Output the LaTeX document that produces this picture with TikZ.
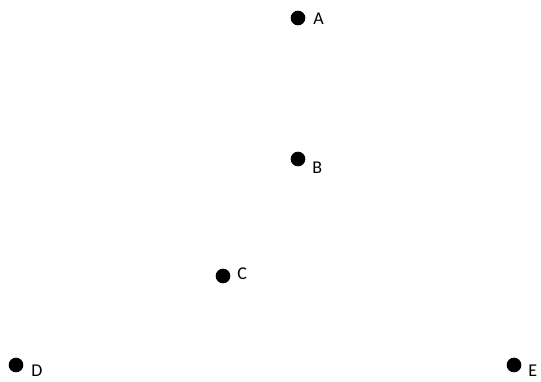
\documentclass[tikz,border=0pt]{standalone}
\usepackage{fontspec}
\setmainfont{Carlito}
\usetikzlibrary{positioning}
\definecolor{Ink}{HTML}{000000}

\begin{document}
\begin{tikzpicture}[x=0.75pt,y=-0.75pt,
    pt/.style={circle,fill=Ink,inner sep=0pt,minimum size=11pt},
    lbl/.style={inner sep=0pt,anchor=base west,font=\fontsize{13.5}{15}\selectfont,text=Ink}]
  \useasboundingbox (0,0) rectangle (541,381);
  % points
  \node[pt] (pA) at (298,18) {};
  \node[pt] (pB) at (298,159) {};
  \node[pt] (pC) at (223,276) {};
  \node[pt] (pD) at (16,365) {};
  \node[pt] (pE) at (514,365) {};
  % labels
  \node[lbl] (lA) at (313,25) {A};
  \node[lbl] (lB) at (312,173) {B};
  \node[lbl] (lC) at (237,279) {C};
  \node[lbl] (lD) at (31,376.5) {D};
  \node[lbl] (lE) at (528,376.5) {E};
\end{tikzpicture}
\end{document}
